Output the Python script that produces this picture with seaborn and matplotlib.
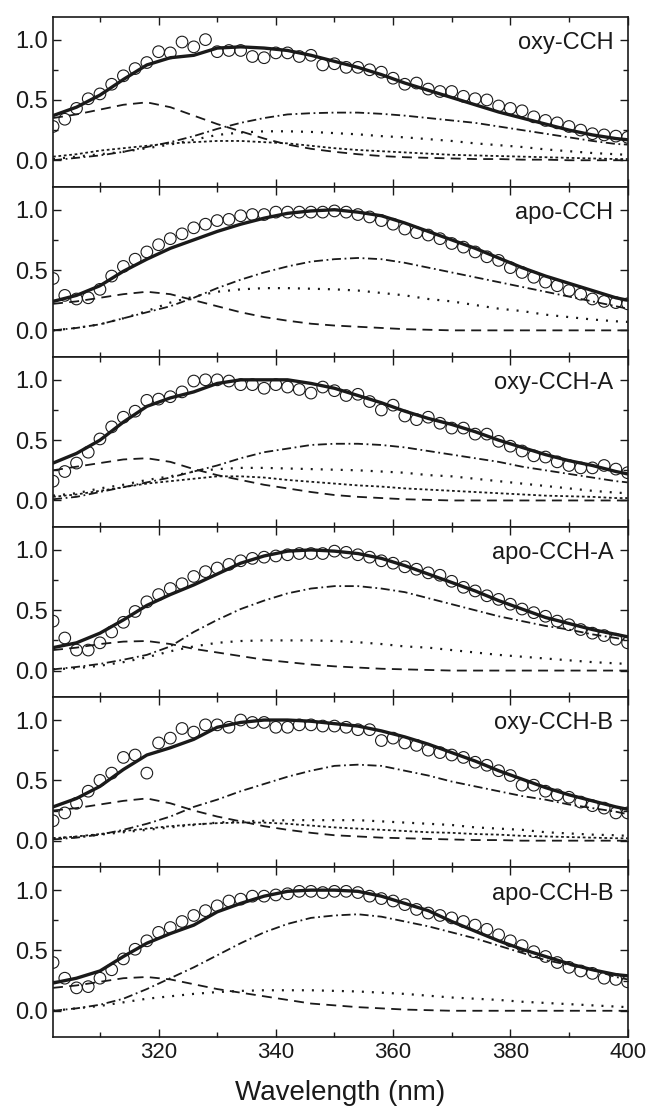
import matplotlib
matplotlib.use("Agg")
import matplotlib.pyplot as plt
import numpy as np
import pandas as pd
import seaborn as sns
from matplotlib.ticker import MultipleLocator

# wavelength grids (nm)
wl_circ = [302, 304, 306, 308, 310, 312, 314, 316, 318, 320, 322, 324, 326, 328, 330,
           332, 334, 336, 338, 340, 342, 344, 346, 348, 350, 352, 354, 356, 358, 360,
           362, 364, 366, 368, 370, 372, 374, 376, 378, 380, 382, 384, 386, 388, 390,
           392, 394, 396, 398, 400]
wl_line = [302, 306, 310, 314, 318, 322, 326, 330, 334, 338, 342, 346, 350, 354, 358,
           362, 366, 370, 374, 378, 382, 386, 390, 394, 398, 400]

panel_names = ["oxy-CCH", "apo-CCH", "oxy-CCH-A", "apo-CCH-A", "oxy-CCH-B", "apo-CCH-B"]

# ---- oxy-CCH
oxy_circ = [.28, .34, .43, .51, .55, .63, .70, .76, .81, .90, .89, .98, .94, 1.0, .90,
            .91, .91, .86, .85, .89, .89, .86, .87, .79, .80, .77, .77, .75, .73, .68,
            .63, .64, .59, .57, .57, .53, .51, .50, .45, .43, .41, .36, .33, .31, .28,
            .25, .22, .21, .20, .19]
oxy_fit = [.37, .44, .54, .67, .79, .85, .87, .93, .94, .93, .91, .87, .82, .77, .71,
           .64, .58, .52, .46, .40, .35, .30, .25, .21, .18, .17]
oxy_dash = [.35, .38, .42, .46, .48, .44, .37, .30, .24, .18, .13, .095, .07, .05, .035,
            .025, .02, .015, .01, .01, .005, .005, 0, 0, 0, 0]
oxy_dashdot = [0, .02, .04, .07, .11, .15, .20, .26, .31, .35, .38, .39, .395, .395, .385,
               .37, .35, .33, .31, .28, .25, .22, .19, .16, .135, .13]
oxy_dot = [.01, .03, .05, .07, .10, .13, .17, .21, .23, .24, .24, .235, .225, .215, .20,
           .19, .175, .16, .14, .125, .11, .09, .075, .06, .05, .045]
oxy_short = [.03, .05, .08, .10, .12, .14, .15, .16, .16, .15, .14, .12, .10, .085, .075,
             .065, .055, .045, .04, .035, .03, .025, .02, .015, .01, .01]

# ---- apo-CCH
apo_circ = [.43, .29, .26, .27, .34, .45, .53, .59, .65, .71, .76, .80, .85, .88, .91,
            .92, .95, .96, .96, .98, .98, .98, .98, .98, .99, .98, .96, .94, .91, .88,
            .84, .81, .79, .76, .72, .69, .65, .61, .58, .52, .48, .44, .40, .37, .33,
            .30, .26, .24, .23, .22]
apo_fit = [.24, .29, .37, .49, .59, .68, .75, .82, .88, .93, .97, .99, 1.0, .98, .95,
           .89, .82, .75, .68, .60, .52, .45, .39, .33, .27, .25]
apo_dash = [.22, .24, .27, .30, .32, .30, .25, .20, .15, .11, .08, .055, .04, .03, .02,
            .01, .005, 0, 0, 0, 0, 0, 0, 0, 0, 0]
apo_dashdot = [0, .02, .05, .10, .15, .20, .27, .35, .42, .48, .53, .57, .59, .60, .59,
               .56, .52, .48, .44, .40, .36, .32, .28, .24, .20, .18]
apo_dot = [0, .02, .05, .10, .16, .23, .28, .32, .34, .35, .35, .345, .34, .33, .31,
           .29, .26, .24, .21, .18, .16, .13, .11, .09, .075, .07]

# ---- oxy-CCH-A
oxyA_circ = [.16, .24, .31, .40, .51, .61, .69, .74, .83, .84, .86, .90, .99, 1.0, 1.0,
             .99, .96, .96, .93, .96, .94, .92, .89, .94, .91, .87, .88, .82, .75, .79,
             .70, .67, .69, .64, .60, .60, .55, .55, .49, .45, .41, .37, .36, .32, .29,
             .27, .27, .29, .26, .23]
oxyA_fit = [.31, .39, .50, .65, .78, .85, .90, .97, 1.0, 1.0, 1.0, .97, .93, .87, .81,
            .74, .68, .63, .57, .50, .44, .38, .33, .29, .24, .22]
oxyA_dash = [.25, .28, .31, .34, .35, .32, .26, .21, .17, .13, .10, .07, .045, .03, .02,
             .01, .005, 0, 0, 0, 0, 0, 0, 0, 0, 0]
oxyA_dashdot = [.01, .03, .07, .11, .15, .19, .24, .29, .35, .40, .43, .46, .47, .47, .46,
                .44, .41, .38, .35, .32, .28, .25, .22, .19, .16, .15]
oxyA_dot = [.04, .06, .10, .13, .17, .20, .24, .26, .27, .27, .265, .26, .255, .25, .24,
            .23, .21, .20, .18, .16, .14, .12, .10, .08, .065, .06]
oxyA_short = [.03, .05, .08, .11, .14, .16, .18, .20, .20, .19, .17, .155, .14, .125, .115,
              .10, .09, .08, .07, .06, .05, .04, .035, .03, .02, .02]

# ---- apo-CCH-A
apoA_circ = [.41, .27, .17, .17, .23, .32, .40, .49, .57, .63, .68, .72, .78, .82, .85,
             .88, .91, .93, .94, .95, .96, .97, .97, .97, .99, .98, .96, .94, .91, .89,
             .86, .84, .81, .79, .74, .69, .66, .62, .59, .55, .51, .48, .45, .41, .38,
             .34, .31, .29, .26, .23]
apoA_fit = [.19, .23, .31, .42, .54, .63, .71, .80, .89, .95, .99, 1.0, .99, .97, .93,
            .87, .80, .73, .66, .58, .51, .44, .39, .34, .30, .28]
apoA_dash = [.17, .19, .22, .24, .245, .22, .18, .15, .12, .09, .07, .05, .035, .025, .015,
             .01, .005, 0, 0, 0, 0, 0, 0, 0, 0, 0]
apoA_dashdot = [.01, .03, .055, .09, .13, .20, .32, .42, .51, .58, .64, .68, .70, .70, .68,
                .65, .60, .55, .50, .45, .41, .37, .34, .30, .27, .25]
apoA_dot = [.01, .02, .04, .07, .11, .16, .20, .23, .245, .25, .25, .25, .245, .235, .22,
            .20, .19, .17, .15, .13, .115, .10, .085, .07, .06, .055]

# ---- oxy-CCH-B
oxyB_circ = [.165, .23, .31, .41, .50, .56, .69, .71, .56, .81, .85, .93, .90, .96, .96,
             .94, 1.0, .98, .98, .94, .94, .96, .96, .95, .95, .94, .92, .92, .83, .85,
             .81, .79, .75, .73, .71, .69, .65, .625, .58, .54, .46, .46, .41, .38, .36,
             .32, .29, .27, .23, .23]
oxyB_fit = [.28, .35, .45, .59, .71, .77, .84, .94, .98, 1.0, 1.0, .99, .97, .95, .91,
            .86, .80, .73, .66, .58, .51, .44, .38, .33, .28, .26]
oxyB_dash = [.25, .27, .30, .33, .35, .31, .25, .20, .16, .12, .09, .065, .045, .035, .025,
             .02, .015, .01, .005, .005, 0, 0, 0, 0, 0, 0]
oxyB_dashdot = [.01, .025, .05, .09, .14, .20, .28, .34, .41, .47, .53, .58, .62, .63, .62,
                .58, .54, .49, .45, .41, .37, .34, .30, .27, .24, .22]
oxyB_dot = [.02, .03, .05, .07, .09, .11, .13, .15, .16, .165, .17, .17, .17, .17, .16,
            .15, .14, .13, .11, .10, .09, .07, .06, .05, .045, .04]
oxyB_short = [.02, .035, .055, .08, .10, .12, .135, .145, .15, .15, .14, .125, .11, .10, .09,
              .08, .07, .065, .055, .05, .04, .035, .03, .025, .02, .02]

# ---- apo-CCH-B
apoB_circ = [.40, .27, .19, .20, .27, .34, .43, .51, .58, .65, .69, .74, .79, .83, .87,
             .91, .925, .95, .95, .96, .97, .99, .99, .98, .99, .99, .98, .95, .93, .91,
             .88, .84, .81, .79, .77, .74, .71, .675, .63, .58, .54, .49, .45, .40, .36,
             .33, .31, .27, .26, .24]
apoB_fit = [.23, .27, .33, .45, .56, .64, .71, .82, .89, .95, .99, 1.0, 1.0, .99, .95,
            .89, .83, .74, .66, .58, .51, .45, .39, .34, .30, .29]
apoB_dash = [.19, .21, .24, .27, .28, .26, .22, .18, .15, .12, .09, .06, .045, .03, .02,
             .01, .005, 0, 0, 0, 0, 0, 0, 0, 0, 0]
apoB_dashdot = [0, .02, .05, .10, .18, .27, .36, .46, .56, .65, .72, .77, .79, .80, .78,
                .74, .70, .65, .60, .54, .48, .42, .38, .34, .28, .26]
apoB_dot = [0, .02, .04, .07, .10, .12, .14, .155, .165, .17, .17, .17, .165, .16, .15,
            .14, .125, .11, .10, .09, .075, .065, .055, .045, .035, .03]

panels = [
    (oxy_circ, oxy_fit, [oxy_dash, oxy_dashdot, oxy_dot, oxy_short]),
    (apo_circ, apo_fit, [apo_dash, apo_dashdot, apo_dot]),
    (oxyA_circ, oxyA_fit, [oxyA_dash, oxyA_dashdot, oxyA_dot, oxyA_short]),
    (apoA_circ, apoA_fit, [apoA_dash, apoA_dashdot, apoA_dot]),
    (oxyB_circ, oxyB_fit, [oxyB_dash, oxyB_dashdot, oxyB_dot, oxyB_short]),
    (apoB_circ, apoB_fit, [apoB_dash, apoB_dashdot, apoB_dot]),
]

# dashed, dash-dot, sparse dots, dense dots  (style, linewidth)
comp_styles = [((0, (5.5, 3.5)), 1.3), ((0, (5, 2, 1, 2)), 1.3),
               ((0, (0.9, 3.6)), 1.6), ((0, (1.5, 1.5)), 1.3)]

sns.set_theme(style="ticks")
plt.rcParams['font.family'] = ['Liberation Sans', 'DejaVu Sans']
plt.rcParams['text.color'] = 'k'
plt.rcParams['axes.labelcolor'] = 'k'
plt.rcParams['xtick.color'] = 'k'
plt.rcParams['ytick.color'] = 'k'

fig, axes = plt.subplots(6, 1, figsize=(6.47, 11.13), dpi=100, sharex=True)
fig.subplots_adjust(left=0.082, right=0.970, top=0.985, bottom=0.068, hspace=0)

for ax, name, (circ, fit, comps) in zip(axes, panel_names, panels):
    for comp, (ls, lw) in zip(comps, comp_styles):
        sns.lineplot(x=wl_line, y=comp, ax=ax, color='k', linewidth=lw,
                     linestyle=ls, estimator=None, sort=False)
    sns.lineplot(x=wl_line, y=fit, ax=ax, color='k', linewidth=2.4,
                 estimator=None, sort=False)
    sns.scatterplot(x=wl_circ, y=circ, ax=ax, marker='o', s=70,
                    facecolor='none', edgecolor='k', linewidth=0.8, zorder=3)
    ax.text(0.975, 0.845, name, transform=ax.transAxes, ha='right', va='center',
            fontsize=17, color='k')
    ax.set_xlim(302, 400)
    ax.set_ylim(-0.22, 1.19)
    ax.xaxis.set_major_locator(MultipleLocator(20))
    ax.xaxis.set_minor_locator(MultipleLocator(10))
    ax.yaxis.set_major_locator(MultipleLocator(0.5))
    ax.yaxis.set_minor_locator(MultipleLocator(0.25))
    ax.tick_params(which='both', direction='in', top=True, right=True,
                   labelsize=17, width=1.0, color='k', labelcolor='k')
    ax.tick_params(which='major', length=6)
    ax.tick_params(which='minor', length=3.5)
    ax.set_ylabel('')
    for sp in ax.spines.values():
        sp.set_linewidth(1.2)
        sp.set_color('k')

axes[-1].tick_params(axis='x', labelsize=16)
axes[-1].set_xlabel("Wavelength (nm)", fontsize=20, labelpad=12, color='k')
fig.savefig("out.png", dpi=100)
